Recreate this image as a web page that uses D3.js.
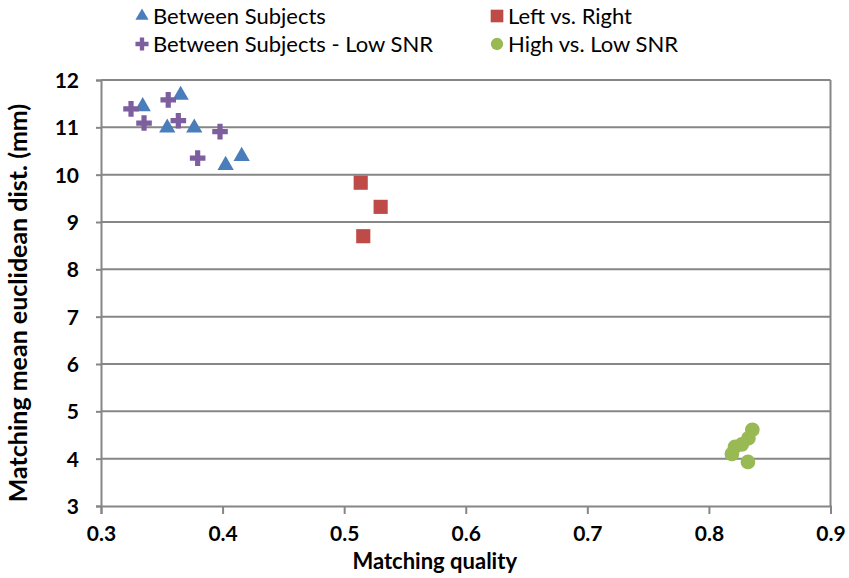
<!DOCTYPE html>
<html><head><meta charset="utf-8">
<script src="https://cdn.jsdelivr.net/npm/d3@7"></script>
<style>body{margin:0;background:#fff}svg{display:block}</style>
</head><body><div id="chart"></div>
<script>
const betweenX = [0.3343,0.3655,0.3545,0.3767,0.4025,0.4157];
const betweenY = [11.44,11.68,10.99,10.99,10.20,10.39];
const lowSnrX = [0.3247,0.3354,0.3553,0.3636,0.3979,0.3795];
const lowSnrY = [11.39,11.09,11.58,11.14,10.91,10.35];
const leftRightX = [0.5136,0.5300,0.5157];
const leftRightY = [9.83,9.32,8.70];
const highLowX = [0.8357,0.8325,0.8270,0.8214,0.8189,0.8321];
const highLowY = [4.61,4.43,4.30,4.25,4.10,3.93];
const xTicks = [0.3,0.4,0.5,0.6,0.7,0.8,0.9];
const yTicks = [3,4,5,6,7,8,9,10,11,12];
const seriesNames = ["Between Subjects","Left vs. Right","Between Subjects - Low SNR","High vs. Low SNR"];

const W=849,H=578;
const m={l:101,r:830.5,t:80,b:506};
const svg=d3.select("#chart").append("svg").attr("width",W).attr("height",H);
const x=d3.scaleLinear().domain([0.3,0.9]).range([m.l,m.r]);
const y=d3.scaleLinear().domain([3,12]).range([m.b,m.t]);
const grey="#868686";
const font="Lato, 'Open Sans', sans-serif";

svg.append("g").selectAll("line").data(yTicks.filter(d=>d>3)).join("line")
  .attr("x1",m.l).attr("x2",m.r).attr("y1",d=>y(d)).attr("y2",d=>y(d))
  .attr("stroke",grey).attr("stroke-width",2);
svg.append("line").attr("x1",m.r).attr("x2",m.r).attr("y1",m.t).attr("y2",m.b).attr("stroke",grey).attr("stroke-width",2);

const xAxis=svg.append("g").attr("transform",`translate(0,${m.b})`)
  .call(d3.axisBottom(x).tickValues(xTicks).tickFormat(d3.format(".1f")).tickSize(8).tickPadding(12));
const yAxis=svg.append("g").attr("transform",`translate(${m.l},0)`)
  .call(d3.axisLeft(y).tickValues(yTicks).tickFormat(d3.format("d")).tickSize(5).tickPadding(17));
[xAxis,yAxis].forEach(a=>{
  a.select(".domain").attr("stroke",grey).attr("stroke-width",2);
  a.selectAll(".tick line").attr("stroke",grey).attr("stroke-width",2);
  a.selectAll("text").attr("font-family",font).attr("font-weight","bold").attr("font-size",21).attr("fill","#000");
});
yAxis.selectAll("text").attr("dy","0.35em");

svg.append("text").attr("x",(m.l+m.r)/2-31).attr("y",569).attr("text-anchor","middle")
  .attr("font-family",font).attr("font-weight","bold").attr("font-size",22).text("Matching quality");
svg.append("text").attr("transform",`translate(27,${(m.t+m.b)/2+10}) rotate(-90)`).attr("text-anchor","middle")
  .attr("font-family",font).attr("font-weight","bold").attr("font-size",25).text("Matching mean euclidean dist. (mm)");

const cols={tri:"#4a7ebb",sq:"#be4b48",cross:"#7d5fa0",circ:"#98b954"};
const sym={
  tri:d3.symbol().type(d3.symbolTriangle).size(115),
  sq:d3.symbol().type(d3.symbolSquare).size(200),
  cross:d3.symbol().type(d3.symbolCross).size(135),
  circ:d3.symbol().type(d3.symbolCircle).size(170)
};
function plot(xs,ys,k){
  svg.append("g").selectAll("path").data(xs.map((v,i)=>[v,ys[i]])).join("path")
    .attr("d",sym[k]).attr("fill",cols[k])
    .attr("transform",d=>`translate(${x(d[0])},${y(d[1])})`);
}
plot(betweenX,betweenY,"tri");
plot(lowSnrX,lowSnrY,"cross");
plot(leftRightX,leftRightY,"sq");
plot(highLowX,highLowY,"circ");

const leg=[
  {n:seriesNames[0],k:"tri",x:142,y:16},
  {n:seriesNames[1],k:"sq",x:497,y:16},
  {n:seriesNames[2],k:"cross",x:142,y:44},
  {n:seriesNames[3],k:"circ",x:497,y:44}
];
const lsym={tri:d3.symbol().type(d3.symbolTriangle).size(75),sq:d3.symbol().type(d3.symbolSquare).size(160),
  cross:d3.symbol().type(d3.symbolCross).size(95),circ:d3.symbol().type(d3.symbolCircle).size(120)};
leg.forEach(l=>{
  svg.append("path").attr("d",lsym[l.k]).attr("fill",cols[l.k]).attr("transform",`translate(${l.x},${l.y})`);
  svg.append("text").attr("x",l.x+11).attr("y",l.y).attr("dy","0.35em")
    .attr("font-family",font).attr("font-size",22).attr("fill","#000").text(l.n);
});
</script></body></html>
